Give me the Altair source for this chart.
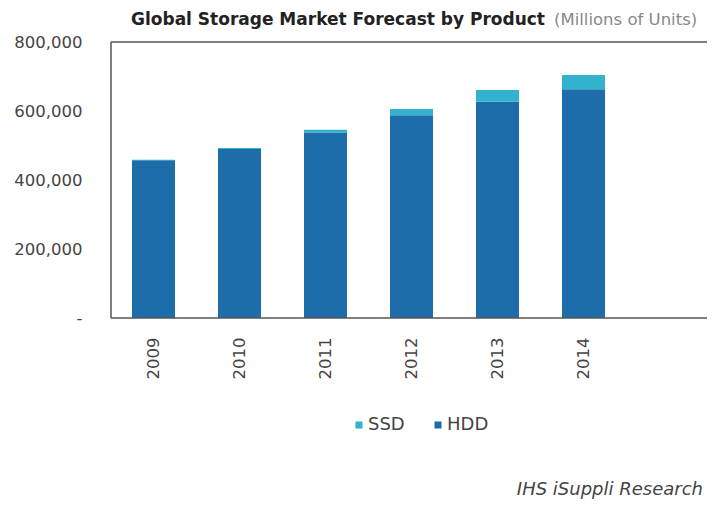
import altair as alt
import pandas as pd

years = ["2009", "2010", "2011", "2012", "2013", "2014"]
hdd = [457000, 490000, 538000, 588000, 627000, 663000]
ssd = [2000, 3000, 8000, 18000, 34000, 41000]
series = ["SSD", "HDD"]
colors = ["#33b2d0", "#1d6dab"]

rows = []
for y, h, s in zip(years, hdd, ssd):
    rows.append({"year": y, "product": "HDD", "units": h, "ord": 0})
    rows.append({"year": y, "product": "SSD", "units": s, "ord": 1})
df = pd.DataFrame(rows)

FONT = "DejaVu Sans"
W, H = 596, 276

bars = alt.Chart(df).mark_bar().encode(
    x=alt.X("year:N", sort=years, title=None,
            scale=alt.Scale(paddingInner=0.5, paddingOuter=0, range=[21, 494]),
            axis=alt.Axis(labelAngle=270, labelFontSize=16.5, labelFont=FONT,
                          labelColor="#444", ticks=False, domain=False,
                          labelPadding=19, labelBaseline="middle")),
    y=alt.Y("units:Q", stack="zero", title=None,
            scale=alt.Scale(domain=[0, 800000], nice=False),
            axis=alt.Axis(values=[0, 200000, 400000, 600000, 800000],
                          labelExpr="datum.value == 0 ? '-' : format(datum.value, ',')",
                          labelFontSize=16.5, labelFont=FONT, labelColor="#444",
                          ticks=False, domain=False, grid=False, labelPadding=29)),
    color=alt.Color("product:N",
                    scale=alt.Scale(domain=series, range=colors),
                    legend=alt.Legend(title=None, orient="none", direction="horizontal",
                                      legendX=239, legendY=374, symbolType="square",
                                      symbolSize=50, labelFontSize=18, labelFont=FONT,
                                      labelColor="#444", columnPadding=24,
                                      symbolStrokeWidth=0, labelOffset=0)),
    order=alt.Order("ord:Q"),
)

frame_style = dict(color="#555", strokeWidth=1.5)
frame_top = alt.Chart(pd.DataFrame({"k": [0]})).mark_rule(**frame_style).encode(
    x=alt.value(0), x2=alt.value(W), y=alt.value(0))
frame_bottom = alt.Chart(pd.DataFrame({"k": [0]})).mark_rule(**frame_style).encode(
    x=alt.value(0), x2=alt.value(W), y=alt.value(H))
frame_left = alt.Chart(pd.DataFrame({"k": [0]})).mark_rule(**frame_style).encode(
    x=alt.value(0), y=alt.value(0), y2=alt.value(H))

title_bold = alt.Chart(pd.DataFrame({"t": ["Global Storage Market Forecast by Product"]})).mark_text(
    align="left", baseline="middle", font=FONT, fontSize=17, fontWeight="bold",
    color="#222").encode(text="t:N", x=alt.value(20), y=alt.value(-22))

title_light = alt.Chart(pd.DataFrame({"t": ["(Millions of Units)"]})).mark_text(
    align="left", baseline="middle", font=FONT, fontSize=16.5, color="#888").encode(
    text="t:N", x=alt.value(443), y=alt.value(-22))

footer = alt.Chart(pd.DataFrame({"t": ["IHS iSuppli Research"]})).mark_text(
    align="right", baseline="alphabetic", font=FONT, fontSize=18, fontStyle="italic",
    color="#444").encode(text="t:N", x=alt.value(592), y=alt.value(453))

chart = alt.layer(bars, frame_top, frame_bottom, frame_left,
                  title_bold, title_light, footer).properties(
    width=W, height=H,
    autosize=alt.AutoSizeParams(type="none"),
    padding={"left": 103, "top": 34, "right": 0, "bottom": 182},
).configure_view(strokeWidth=0)

chart.save("out.html", embed_options={"renderer": "svg", "actions": False})
